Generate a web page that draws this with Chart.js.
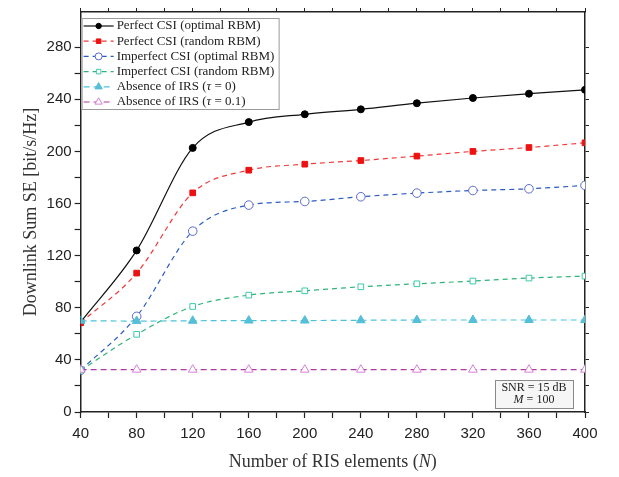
<!DOCTYPE html>
<html>
<head>
<meta charset="utf-8">
<script src="https://cdn.jsdelivr.net/npm/chart.js@4.4.1/dist/chart.umd.min.js"></script>
<style>
  html, body { margin: 0; padding: 0; background: #fff; }
  canvas { display: block; }
</style>
</head>
<body>
<canvas id="myChart" width="619" height="477"></canvas>
<script>
// number of RIS elements
var ris = [40, 80, 120, 160, 200, 240, 280, 320, 360, 400];

// downlink sum SE [bit/s/Hz]
var perfectOpt   = [69, 124, 202.7, 222.5, 228.5, 232.3, 237, 241, 244.3, 247.3];
var perfectRand  = [68.5, 106.6, 168.2, 185.6, 190.2, 193, 196.4, 200, 203, 206.6];
var imperfOpt    = [32, 73.4, 138.8, 158.8, 161.6, 165.2, 168, 170, 171.3, 173.9];
var imperfRand   = [32, 59.6, 81, 89.7, 93, 96.1, 98.4, 100.5, 102.8, 104.3];
var noIrsTau0    = [70, 69.8, 70, 70.2, 70.2, 70.4, 70.6, 70.6, 70.6, 70.6];
var noIrsTau01   = [32.5, 32.5, 32.5, 32.5, 32.5, 32.5, 32.5, 32.5, 32.5, 32.5];

var yTicks = [0, 40, 80, 120, 160, 200, 240, 280];
var xTicks = [40, 80, 120, 160, 200, 240, 280, 320, 360, 400];

var serif = "'Liberation Serif', 'DejaVu Serif', serif";
var sans = "'Liberation Sans', Arial, sans-serif";

function pts(ys) {
    return ris.map(function (x, i) { return { x: x, y: ys[i] }; });
}

function series(label, ys, color, mColor, style, fill, dash, r) {
    return {
        label: label,
        data: pts(ys),
        borderColor: color,
        borderWidth: 1.2,
        borderDash: dash,
        pointStyle: style,
        pointRadius: r,
        pointBorderColor: mColor,
        pointBackgroundColor: fill ? mColor : "#ffffff",
        pointBorderWidth: 1,
        cubicInterpolationMode: "monotone",
        fill: false,
    };
}

var datasets = [
    series("Absence of IRS (\u03c4 = 0.1)", noIrsTau01, "#b0399f", "#d77fd6", "triangle", false, [6, 4], 5),
    series("Absence of IRS (\u03c4 = 0)", noIrsTau0, "#4cc3d9", "#55bfd8", "triangle", true, [6, 4], 5),
    series("Imperfect CSI (random RBM)", imperfRand, "#2fb37a", "#3ccaa8", "rect", false, [5, 4], 4),
    series("Imperfect CSI (optimal RBM)", imperfOpt, "#2a5cc0", "#5b6bc9", "circle", false, [5, 4], 4.3),
    series("Perfect CSI (random RBM)", perfectRand, "#f03a3a", "#ee1111", "rect", true, [5, 4], 4),
    series("Perfect CSI (optimal RBM)", perfectOpt, "#111111", "#000000", "circle", true, [], 3.5),
];

// draws a text made of [string, italic] parts starting at x
function richText(c, parts, x, y, size) {
    parts.forEach(function (p) {
        c.font = (p[1] ? "italic " : "") + size + "px " + serif;
        c.fillText(p[0], x, y);
        x += c.measureText(p[0]).width;
    });
}
function richWidth(c, parts, size) {
    var w = 0;
    parts.forEach(function (p) {
        c.font = (p[1] ? "italic " : "") + size + "px " + serif;
        w += c.measureText(p[0]).width;
    });
    return w;
}

// legend, annotation and x title drawn by hand
var insideLegend = {
    id: "insideLegend",
    afterDatasetsDraw: function (chart) {
        var c = chart.ctx, a = chart.chartArea;
        var x0 = a.left + 1, y0 = a.top + 6, w = 197, h = 91;
        c.save();
        c.fillStyle = "#fff";
        c.strokeStyle = "#9a9a9a";
        c.lineWidth = 1;
        c.fillRect(x0, y0, w, h);
        c.strokeRect(x0 + 0.5, y0 + 0.5, w, h);
        c.textBaseline = "middle";
        c.textAlign = "left";
        var list = chart.data.datasets.slice().reverse();
        list.forEach(function (ds, i) {
            var y = y0 + 8 + i * 15.2;
            c.strokeStyle = ds.borderColor;
            c.lineWidth = 1.2;
            c.setLineDash(ds.borderDash);
            c.beginPath();
            c.moveTo(x0 + 2, y);
            c.lineTo(x0 + 32, y);
            c.stroke();
            c.setLineDash([]);
            c.fillStyle = ds.pointBackgroundColor;
            c.strokeStyle = ds.pointBorderColor;
            c.lineWidth = 1;
            Chart.helpers.drawPoint(c, {
                pointStyle: ds.pointStyle,
                radius: ds.pointRadius - 0.8,
                borderWidth: 1,
                rotation: 0,
            }, x0 + 17, y);
            c.fillStyle = "#222";
            var m = ds.label.match(/^(.*\()\u03c4( = .*)$/);
            var parts = m ? [[m[1], false], ["\u03c4", true], [m[2], false]] : [[ds.label, false]];
            richText(c, parts, x0 + 35, y, 13);
        });

        var bx = a.right - 90, by = a.bottom - 32, bw = 78, bh = 28;
        c.fillStyle = "#f6f6f6";
        c.fillRect(bx, by, bw, bh);
        c.strokeStyle = "#8a8a8a";
        c.strokeRect(bx + 0.5, by + 0.5, bw, bh);
        c.fillStyle = "#222";
        c.textAlign = "center";
        c.font = "12px " + serif;
        c.fillText("SNR = 15 dB", bx + bw / 2, by + 8);
        c.textAlign = "left";
        var mp = [["M", true], [" = 100", false]];
        richText(c, mp, bx + bw / 2 - richWidth(c, mp, 12) / 2, by + 20, 12);

        // x axis title
        var tp = [["Number of RIS elements (", false], ["N", true], [")", false]];
        c.fillStyle = "#333";
        richText(c, tp, (a.left + a.right) / 2 - richWidth(c, tp, 18) / 2, 462, 18);
        c.restore();
    },
};

function keepSteps(scale) {
    scale.ticks = scale.ticks.filter(function (t) { return t.value % 20 === 0; });
}

function axisGrid() {
    return { drawOnChartArea: false, drawTicks: true, tickLength: 6, color: "#222", tickWidth: 1.2 };
}

var ctx = document.getElementById("myChart").getContext("2d");
var chart = new Chart(ctx, {
    type: "line",
    data: { datasets: datasets },
    options: {
        responsive: false,
        animation: false,
        devicePixelRatio: 1,
        layout: { padding: { top: 0, right: 30, left: 16, bottom: 27 } },
        plugins: { legend: { display: false }, tooltip: { enabled: false } },
        scales: {
            x: {
                type: "linear",
                min: 40,
                max: 400,
                afterBuildTicks: keepSteps,
                ticks: {
                    stepSize: 20,
                    autoSkip: false,
                    maxRotation: 0,
                    padding: 7,
                    color: "#222",
                    font: { size: 15, family: sans },
                    callback: function (v) { return xTicks.indexOf(v) >= 0 ? String(v) : ""; },
                },
                grid: axisGrid(),
                border: { display: true, color: "#222", width: 1.5 },
            },
            y: {
                type: "linear",
                min: 0,
                max: 307,
                afterBuildTicks: keepSteps,
                ticks: {
                    stepSize: 20,
                    autoSkip: false,
                    color: "#222",
                    font: { size: 15, family: sans },
                    callback: function (v) { return yTicks.indexOf(v) >= 0 ? String(v) : ""; },
                },
                grid: axisGrid(),
                border: { display: true, color: "#222", width: 1.5 },
                title: {
                    display: true,
                    text: "Downlink Sum SE [bit/s/Hz]",
                    color: "#333",
                    font: { size: 18, family: serif },
                    padding: { bottom: 2 },
                },
            },
            x2: {
                type: "linear",
                position: "top",
                min: 40,
                max: 400,
                afterBuildTicks: keepSteps,
                ticks: { display: false, stepSize: 20 },
                grid: { drawOnChartArea: false, tickLength: 4, color: "#222" },
                border: { display: true, color: "#222", width: 1.5 },
            },
            y2: {
                type: "linear",
                position: "right",
                min: 0,
                max: 307,
                afterBuildTicks: keepSteps,
                ticks: { display: false, stepSize: 20 },
                grid: { drawOnChartArea: false, tickLength: 4, color: "#222" },
                border: { display: true, color: "#222", width: 1.5 },
            },
        },
    },
    plugins: [insideLegend],
});
</script>
</body>
</html>
